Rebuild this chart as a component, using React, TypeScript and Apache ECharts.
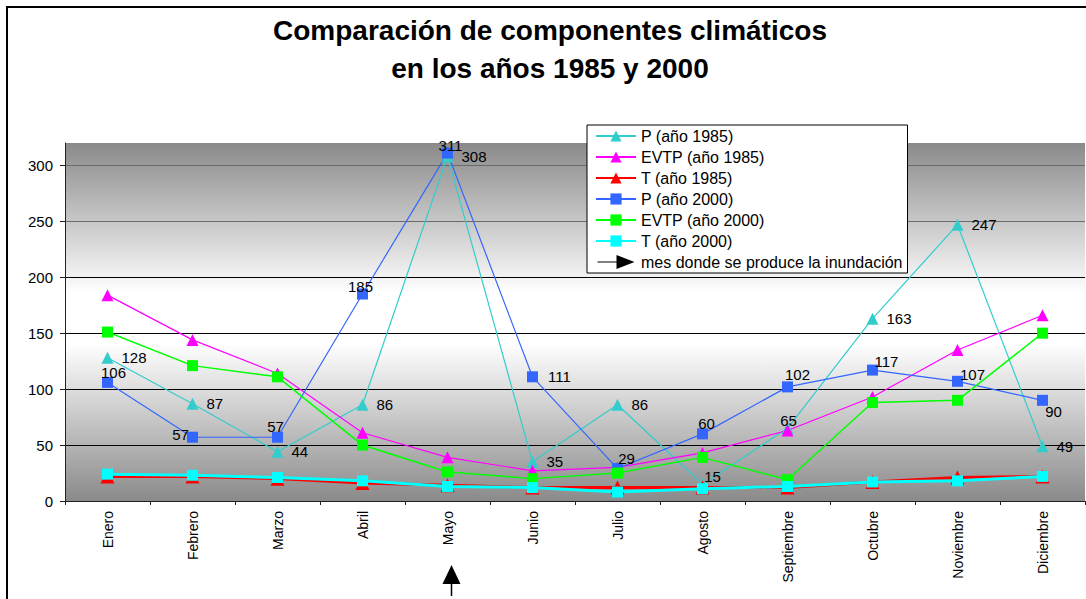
import React, { useEffect, useRef } from "react";
import * as echarts from "echarts";

const months = ["Enero", "Febrero", "Marzo", "Abril", "Mayo", "Junio", "Julio", "Agosto", "Septiembre", "Octubre", "Noviembre", "Diciembre"];
const p1985 = [128, 87, 44, 86, 308, 35, 86, 15, 65, 163, 247, 49];
const evtp1985 = [184, 144, 114, 61, 39, 27, 30, 43, 63, 93, 135, 166];
const t1985 = [22, 22, 20, 16, 14, 12, 12, 12, 12, 17, 21, 22];
const p2000 = [106, 57, 57, 185, 311, 111, 29, 60, 102, 117, 107, 90];
const evtp2000 = [151, 121, 111, 50, 26, 20, 25, 39, 19, 88, 90, 150];
const t2000 = [24, 23, 21, 18, 13, 12, 8, 11, 13, 17, 18, 22];

const seriesNames = ["P (año 1985)", "EVTP (año 1985)", "T (año 1985)", "P (año 2000)", "EVTP (año 2000)", "T (año 2000)"];
const arrowName = "mes donde se produce la inundación";
const floodMonth = "Mayo";

const FONT = "'Liberation Sans', Arial, sans-serif";

// label placement (style, not data)
const p85LabelOverrides: Record<number, any> = {
  7: { position: "inside", offset: [10, -8] },
  8: { position: "inside", offset: [1, -8] },
};
const p00LabelOffsets: number[][] = [
  [6, -10], [-12, -3], [-2, -11], [-2, -8], [3, -8], [27, 0],
  [9, -10], [4, -10], [10, -12], [14, -9], [15, -7], [11, 11],
];

export default function App() {
  const ref = useRef<HTMLDivElement>(null);
  useEffect(() => {
    document.body.style.margin = "0";
    if (!ref.current) return;
    const chart = echarts.init(ref.current, undefined, { renderer: "svg" });

    const labelBase = {
      show: true,
      color: "#000",
      fontSize: 15,
      fontFamily: FONT,
      textBorderWidth: 0,
    };

    const p85Data = p1985.map((v, i) =>
      p85LabelOverrides[i] ? { value: v, label: { ...p85LabelOverrides[i] } } : v
    );
    const p00Data = p2000.map((v, i) => ({
      value: v,
      label: { position: "inside", offset: p00LabelOffsets[i] },
    }));

    const option: any = {
      animation: false,
      backgroundColor: "#fff",
      title: {
        text: "Comparación de componentes climáticos\nen los años 1985 y 2000",
        left: 545,
        textAlign: "center",
        top: 6,
        textStyle: {
          fontFamily: FONT,
          fontSize: 28,
          fontWeight: "bold",
          color: "#000",
          lineHeight: 38,
        },
      },
      grid: {
        left: 65,
        right: 1,
        top: 143,
        bottom: 98,
        show: true,
        borderWidth: 0,
        backgroundColor: {
          type: "linear",
          x: 0, y: 0, x2: 0, y2: 1,
          colorStops: [
            { offset: 0, color: "#8a8a8a" },
            { offset: 0.42, color: "#ffffff" },
            { offset: 0.56, color: "#ffffff" },
            { offset: 1, color: "#8a8a8a" },
          ],
        },
      },
      legend: {
        orient: "vertical",
        left: 587,
        top: 125,
        backgroundColor: "#fff",
        borderColor: "#000",
        borderWidth: 1,
        padding: [3, 5, 3, 8],
        itemWidth: 40,
        itemHeight: 14,
        itemGap: 5,
        selectedMode: false,
        textStyle: { fontFamily: FONT, fontSize: 16, color: "#000" },
        data: [
          ...seriesNames,
          {
            name: arrowName,
            icon: "path://M0,6.4 L22,6.4 L22,7.6 L0,7.6 Z M19,0 L37,7 L19,14 Z",
          },
        ],
      },
      xAxis: {
        type: "category",
        data: months,
        boundaryGap: true,
        axisLine: { lineStyle: { color: "#222", width: 1 } },
        axisTick: { show: true, interval: 0, length: 4, lineStyle: { color: "#222" } },
        axisLabel: {
          interval: 0,
          rotate: 90,
          margin: 10,
          fontSize: 14,
          fontFamily: FONT,
          color: "#000",
        },
        splitLine: { show: false },
      },
      yAxis: {
        type: "value",
        min: 0,
        max: 320,
        interval: 50,
        axisLine: { show: true, lineStyle: { color: "#222", width: 1 } },
        axisTick: { show: true, length: 5, lineStyle: { color: "#222" } },
        axisLabel: {
          fontSize: 15,
          fontFamily: FONT,
          color: "#000",
          margin: 12,
          showMaxLabel: false,
        },
        splitLine: {
          show: true,
          showMaxLine: false,
          lineStyle: {
            color: ["#000", "#000", "#000", "#000", "#000", "#6a6a6a", "#6a6a6a", "#6a6a6a"],
            width: 1,
          },
        },
      },
      series: [
        {
          name: seriesNames[0],
          type: "line",
          data: p85Data,
          symbol: "triangle",
          symbolSize: 12,
          color: "#33CCCC",
          lineStyle: { width: 1.2, color: "#33CCCC" },
          itemStyle: { color: "#33CCCC" },
          label: { ...labelBase, position: "right", distance: 8 },
        },
        {
          name: seriesNames[1],
          type: "line",
          data: evtp1985,
          symbol: "triangle",
          symbolSize: 12,
          color: "#FF00FF",
          lineStyle: { width: 1.2, color: "#FF00FF" },
          itemStyle: { color: "#FF00FF" },
        },
        {
          name: seriesNames[2],
          type: "line",
          data: t1985,
          symbol: "triangle",
          symbolSize: 14,
          color: "#FF0000",
          lineStyle: { width: 3, color: "#FF0000" },
          itemStyle: { color: "#FF0000" },
        },
        {
          name: seriesNames[3],
          type: "line",
          data: p00Data,
          symbol: "rect",
          symbolSize: 11,
          color: "#3366FF",
          lineStyle: { width: 1.2, color: "#3366FF" },
          itemStyle: { color: "#3366FF" },
          label: { ...labelBase },
        },
        {
          name: seriesNames[4],
          type: "line",
          data: evtp2000,
          symbol: "rect",
          symbolSize: 11,
          color: "#00FF00",
          lineStyle: { width: 1.5, color: "#00FF00" },
          itemStyle: { color: "#00FF00" },
        },
        {
          name: seriesNames[5],
          type: "line",
          data: t2000,
          symbol: "rect",
          symbolSize: 11,
          color: "#00FFFF",
          lineStyle: { width: 3, color: "#00FFFF" },
          itemStyle: { color: "#00FFFF" },
        },
        {
          name: arrowName,
          type: "line",
          data: [],
          color: "#000",
          lineStyle: { width: 1, color: "#000" },
          itemStyle: { color: "#000" },
        },
      ],
    };

    chart.setOption(option);

    // frame and flood arrow (annotation)
    const idx = months.indexOf(floodMonth);
    const px = chart.convertToPixel({ xAxisIndex: 0 }, idx) as number;
    chart.setOption({
      graphic: [
        {
          type: "rect",
          shape: { x: 7, y: 7, width: 1200, height: 700 },
          style: { fill: "none", stroke: "#000", lineWidth: 2 },
          silent: true,
          z: 100,
        },
        {
          type: "polygon",
          shape: { points: [[px + 4, 565], [px - 5, 584], [px + 13, 584]] },
          style: { fill: "#000" },
          silent: true,
        },
        {
          type: "line",
          shape: { x1: px + 4, y1: 583, x2: px + 4, y2: 596 },
          style: { stroke: "#000", lineWidth: 1.5 },
          silent: true,
        },
      ],
    });

    return () => chart.dispose();
  }, []);

  return <div ref={ref} style={{ width: 1086, height: 599 }} />;
}
